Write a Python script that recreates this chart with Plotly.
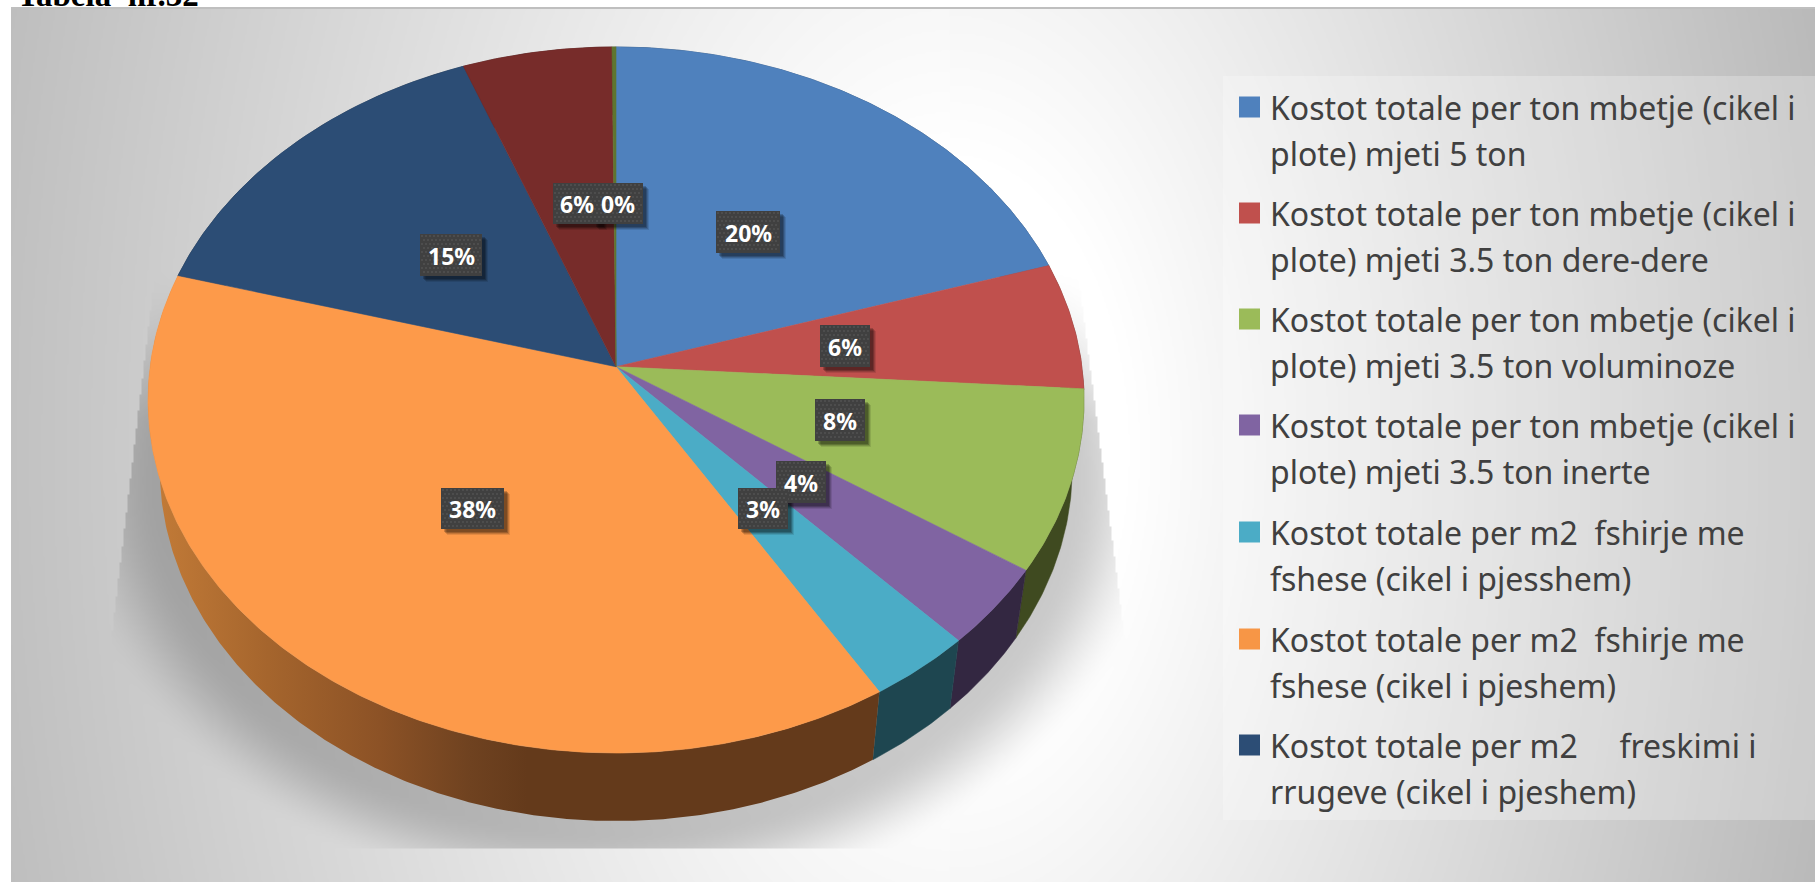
import numpy as np
import plotly.graph_objects as go

# ---------- data ----------
values = [20.2, 5.8, 8.3, 3.7, 3.3, 38.0, 14.9, 5.65, 0.15]
top_colors = ["#4F81BD", "#C0504D", "#9BBB59", "#8064A2", "#4BACC6", "#FD9A4A", "#2C4D75", "#772C2A", "#5F7530"]
swatch_colors = ["#4F81BD", "#C0504D", "#9BBB59", "#8064A2", "#4BACC6", "#F79646", "#2C4D75"]
wall_colors = ["#27405E", "#602826", "#3F4A20", "#332741", "#1E4650", "#643A1B", "#16263A", "#3B1615", "#2F3A18"]
label_boxes = [(716, 780, 211, 253), (820, 870, 325, 367), (815, 865, 399, 441), (776, 826, 461, 503),
               (738, 788, 488, 529), (441, 504, 488, 529), (420, 482, 234, 276), (553, 601, 183, 224), (593, 643, 183, 224)]
legend_lines = [
    ("Kostot totale per ton mbetje (cikel i", "plote) mjeti 5 ton"),
    ("Kostot totale per ton mbetje (cikel i", "plote) mjeti 3.5 ton dere-dere"),
    ("Kostot totale per ton mbetje (cikel i", "plote) mjeti 3.5 ton voluminoze"),
    ("Kostot totale per ton mbetje (cikel i", "plote) mjeti 3.5 ton inerte"),
    ("Kostot totale per m2\u00a0\u00a0fshirje me", "fshese (cikel i pjesshem)"),
    ("Kostot totale per m2\u00a0\u00a0fshirje me", "fshese (cikel i pjeshem)"),
    ("Kostot totale per m2\u00a0\u00a0\u00a0\u00a0\u00a0freskimi i", "rrugeve (cikel i pjeshem)"),
]
legend_y = [107, 213, 319, 425, 532, 639, 745]
title_text = "Tabela\u00a0\u00a0nr.32"

W, H = 1815, 882
CX, CY, RX, RY, K = 616.0, 366.7, 465.9, 349.9, 0.0943
DEPTH, SHRINK = 68.0, 0.975


def project(theta):
    u, v = np.sin(theta), np.cos(theta)
    w = 1 + K * v
    return CX + RX * u / w, CY - RY * v / w


# ---------- background + shadow ----------
gx, gy = np.meshgrid(np.arange(12, W + 1, 2), np.arange(9, H + 1, 2))
dx, dy = (gx - 950) / 865, (gy - 450) / 430
r = np.sqrt(dx ** 2 + (0.3 * dy) ** 2)
scale = np.where(gx < 950, 56, 66)
bg = 255 - scale * np.clip(r - 0.2, 0, None) / 0.8
e = np.sqrt(((gx - 615) / 455) ** 2 + ((gy - 480) / 353) ** 2)
t = np.clip((1.22 - e) / 0.22, 0, 1)
ramp = np.clip((gy - 270) / 150, 0, 1)
alpha = 0.21 * t * t * (3 - 2 * t) * ramp
left_edge = 152 - 0.119 * (gy - 293)
right_edge = 1085 + 0.128 * (gy - 330)
alpha[(gx < left_edge) | (gx > right_edge) | (gy > 847)] = 0
gray = np.round(bg * (1 - alpha)).astype(int)

fig = go.Figure()
fig.add_trace(go.Heatmap(z=gray.tolist(), x0=12, dx=2, y0=9, dy=2, zmin=0, zmax=255,
                         colorscale=[[0, "#000000"], [1, "#ffffff"]], showscale=False,
                         hoverinfo="skip", zsmooth="best"))

# ---------- legend panel ----------
fig.add_trace(go.Scatter(x=[1223, W, W, 1223, 1223], y=[76, 76, 820, 820, 76], mode="lines", fill="toself",
                         fillcolor="rgba(255,255,255,0.25)", line=dict(width=0), hoverinfo="skip"))

# ---------- pie from values ----------
total = sum(values)
edges = 2 * np.pi * np.concatenate([[0], np.cumsum(values)]) / total


def arc(i):
    n = max(3, int((edges[i + 1] - edges[i]) * 120))
    return project(np.linspace(edges[i], edges[i + 1], n))


for i in range(len(values)):
    x, y = arc(i)
    bx, by = CX + (x - CX) * SHRINK, y + DEPTH
    px = np.concatenate([x, bx[::-1], x[:1]])
    py = np.concatenate([y, by[::-1], y[:1]])
    if i == 5:
        fig.add_trace(go.Scatter(
            x=px, y=py, mode="lines", fill="toself", line=dict(width=0), hoverinfo="skip",
            fillgradient=dict(type="horizontal", start=148, stop=527, colorscale=[
                [0, "#C47C38"], [0.317, "#A5652D"], [0.612, "#8C5226"], [0.85, "#6F4220"], [1, "#643A1B"]])))
    else:
        fig.add_trace(go.Scatter(x=px, y=py, mode="lines", fill="toself", fillcolor=wall_colors[i],
                                 line=dict(width=0.5, color=wall_colors[i]), hoverinfo="skip"))

for i in range(len(values)):
    x, y = arc(i)
    px = np.concatenate([[CX], x, [CX]])
    py = np.concatenate([[CY], y, [CY]])
    fig.add_trace(go.Scatter(x=px, y=py, mode="lines", fill="toself", fillcolor=top_colors[i],
                             line=dict(width=0.6, color=top_colors[i]), hoverinfo="skip"))

# ---------- data-label boxes ----------
for i, (x0, x1, y0, y1) in enumerate(label_boxes):
    for off, a in ((6, 0.10), (5, 0.14), (4, 0.20), (3, 0.20)):
        fig.add_trace(go.Scatter(x=[x0 + off, x1 + off, x1 + off, x0 + off, x0 + off],
                                 y=[y0 + off, y0 + off, y1 + off, y1 + off, y0 + off],
                                 mode="lines", fill="toself", fillcolor=f"rgba(0,0,0,{a})",
                                 line=dict(width=0), hoverinfo="skip"))
for i, (x0, x1, y0, y1) in enumerate(label_boxes):
    fig.add_trace(go.Scatter(x=[x0, x1, x1, x0, x0], y=[y0, y0, y1, y1, y0], mode="lines", fill="toself",
                             fillcolor="#404040", line=dict(width=0), hoverinfo="skip"))
    dots_x, dots_y = np.meshgrid(np.arange(x0 + 2, x1, 4), np.arange(y0 + 2, y1, 4))
    sx = dots_x + (np.arange(dots_x.shape[0])[:, None] % 2) * 2
    keep = sx < x1 - 1
    fig.add_trace(go.Scatter(x=sx[keep], y=dots_y[keep], mode="markers", hoverinfo="skip",
                             marker=dict(size=1.6, color="#5E5E5E", line=dict(width=0))))
    fig.add_annotation(x=(x0 + x1) / 2, y=(y0 + y1) / 2 + 0.5, text=f"<b>{round(values[i])}%</b>", showarrow=False,
                       font=dict(family="Noto Sans", size=23, color="#FFFFFF"), xanchor="center", yanchor="middle")

# ---------- legend ----------
fig.add_trace(go.Scatter(x=[1249.5] * 7, y=legend_y, mode="markers", hoverinfo="skip",
                         marker=dict(symbol="square", size=21, color=swatch_colors, line=dict(width=0))))
for (a, b), y in zip(legend_lines, legend_y):
    for txt, yy in ((a, y), (b, y + 46)):
        fig.add_annotation(x=1268, y=yy, text=txt, showarrow=False, xanchor="left", yanchor="middle",
                           font=dict(family="Noto Sans", size=32, color="#404040"))

# ---------- frame + clipped caption ----------
fig.add_shape(type="line", x0=11, x1=W, y0=8, y1=8, line=dict(color="#BFBFBF", width=2), layer="above")
fig.add_annotation(x=15, y=15, text=f"<b>{title_text}</b>", showarrow=False, xanchor="left", yanchor="bottom",
                   font=dict(family="Liberation Serif", size=33, color="#000000"))

fig.update_layout(
    width=W, height=H, margin=dict(l=0, r=0, t=0, b=0), showlegend=False,
    paper_bgcolor="#FFFFFF", plot_bgcolor="#FFFFFF",
    xaxis=dict(range=[0, W], visible=False, fixedrange=True),
    yaxis=dict(range=[H, 0], visible=False, fixedrange=True),
)
fig.write_html("out.html", post_script="document.body.style.margin='0';document.body.style.overflow='hidden';",
               config={"displayModeBar": False})
